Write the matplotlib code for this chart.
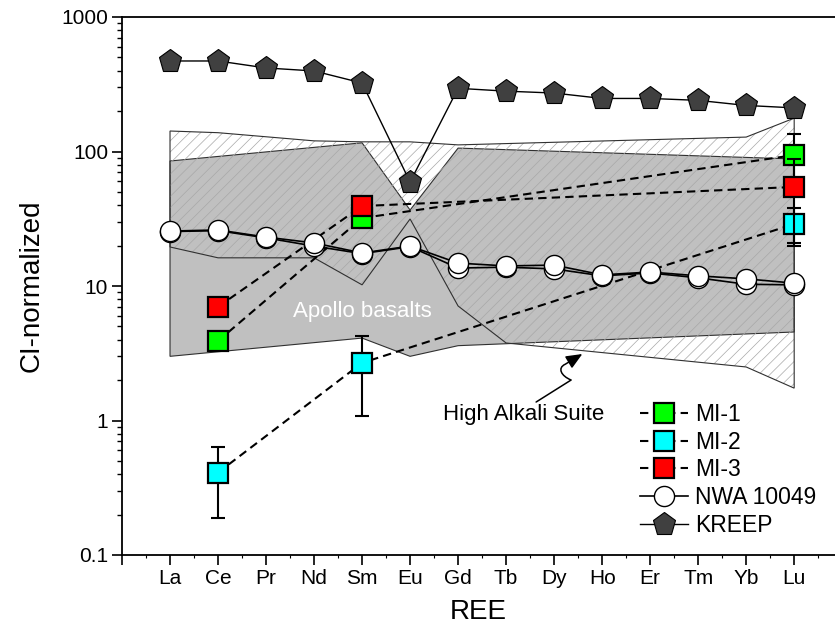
import numpy as np
import matplotlib
matplotlib.use("Agg")
import matplotlib.pyplot as plt
from matplotlib.path import Path
from matplotlib.patches import FancyArrowPatch

plt.rcParams['font.family'] = ['Liberation Sans', 'DejaVu Sans']
plt.rcParams['hatch.linewidth'] = 0.5

# REE on the x axis
ree = ['La', 'Ce', 'Pr', 'Nd', 'Sm', 'Eu', 'Gd', 'Tb', 'Dy', 'Ho', 'Er', 'Tm', 'Yb', 'Lu']

# KREEP and NWA 10049 (two analyses)
kreep = [471, 471, 418, 397, 323, 59.3, 295, 281, 272, 248, 248, 240, 220, 211]
nwa_a = [25.6, 26.1, 23.1, 20.9, 17.6, 19.8, 14.8, 14.1, 14.3, 12.1, 12.7, 11.9, 11.3, 10.5]
nwa_b = [25.4, 25.8, 22.8, 19.8, 17.4, 19.6, 13.6, 13.8, 13.4, 11.9, 12.5, 11.5, 10.3, 10.2]

# melt inclusions
mi_ree = ['Ce', 'Sm', 'Lu']
mi1 = [3.9, 32, 94]
mi1_err = [0, 0, 41]
mi2 = [0.41, 2.68, 28.9]
mi2_err = [0.22, 1.6, 9]
mi3 = [7.0, 39.3, 54.5]
mi3_err = [0, 0, 33.5]

# Apollo basalts field
apollo_up_ree = ['La', 'Sm', 'Eu', 'Gd', 'Lu']
apollo_up = [85, 116, 36.7, 106, 88]
apollo_lo_ree = ['La', 'Sm', 'Eu', 'Gd', 'Lu']
apollo_lo = [3.0, 4.1, 3.0, 3.6, 4.55]

# High Alkali Suite field
has_up_ree = ['La', 'Ce', 'Nd', 'Sm', 'Eu', 'Gd', 'Yb', 'Lu']
has_up = [142, 138, 120, 118, 118, 112, 128, 177]
has_lo_ree = ['La', 'Ce', 'Nd', 'Sm', 'Eu', 'Gd', 'Tb', 'Yb', 'Lu']
has_lo = [19.5, 16.2, 16.2, 10.2, 31.5, 7.1, 3.77, 2.5, 1.74]

# squiggly pointer for the High Alkali Suite label (x as REE position, y value)
arrow_x = [8.625, 9.354, 9.146, 9.0625, 9.229, 9.5875]
arrow_y = [1.372, 2.0, 2.142, 2.457, 2.617, 3.122]

pos = {r: i + 1 for i, r in enumerate(ree)}
x = np.arange(1, len(ree) + 1)
xm = [pos[r] for r in mi_ree]

fig = plt.figure(figsize=(8.35, 6.34), dpi=100)
ax = fig.add_axes([122 / 835, 1 - 555 / 634, 713 / 835, 538 / 634])
ax.set_yscale('log')

# fields
px = [pos[r] for r in apollo_up_ree] + [pos[r] for r in apollo_lo_ree][::-1]
py = apollo_up + apollo_lo[::-1]
ax.fill(px, py, facecolor='#c0c0c0', edgecolor='#303030', lw=0.8, zorder=1)

hx = [pos[r] for r in has_up_ree] + [pos[r] for r in has_lo_ree][::-1]
hy = has_up + has_lo[::-1]
ax.fill(hx, hy, facecolor='none', edgecolor='#a8a8a8', hatch='///', lw=0, zorder=2)
ax.fill(hx, hy, facecolor='none', edgecolor='#303030', lw=0.8, zorder=2)

ax.text(5.0, 6.5, 'Apollo basalts', color='white', fontsize=16,
        ha='center', va='center', zorder=3)
ax.text(8.375, 1.1, 'High Alkali Suite', color='black', fontsize=16,
        ha='center', va='center', zorder=3)

codes = [Path.MOVETO, Path.LINETO, Path.CURVE4, Path.CURVE4, Path.CURVE4, Path.LINETO]
squiggle = FancyArrowPatch(path=Path(list(zip(arrow_x, arrow_y)), codes),
                           arrowstyle='-|>,head_length=0.7,head_width=0.3',
                           mutation_scale=14, lw=1.1, color='black',
                           transform=ax.transData, zorder=3)
ax.add_patch(squiggle)

# melt inclusions
dash = (4, 2.5)
handles = []
for vals, err, col, lab in [(mi1, mi1_err, '#00ff00', 'MI-1'),
                            (mi2, mi2_err, '#00ffff', 'MI-2'),
                            (mi3, mi3_err, '#ff0000', 'MI-3')]:
    ax.errorbar(xm, vals, yerr=err, fmt='none', ecolor='black', elinewidth=1.5,
                capsize=4.7, capthick=1.5, zorder=4)
    ln, = ax.plot(xm, vals, color='black', lw=1.5, dashes=dash, marker='s',
                  markersize=15, markerfacecolor=col, markeredgecolor='black',
                  markeredgewidth=1.6, label=lab, zorder=4)
    handles.append(ln)

# NWA 10049
ax.plot(x, nwa_b, color='black', lw=1.2, marker='o', markersize=14.5,
        markerfacecolor='white', markeredgecolor='black', markeredgewidth=1.0, zorder=5)
ln, = ax.plot(x, nwa_a, color='black', lw=1.2, marker='o', markersize=14.5,
              markerfacecolor='white', markeredgecolor='black', markeredgewidth=1.0,
              label='NWA 10049', zorder=5)
handles.append(ln)

# KREEP
ln, = ax.plot(x, kreep, color='black', lw=1.0, marker='p', markersize=17,
              markerfacecolor='#404040', markeredgecolor='black', markeredgewidth=0.8,
              label='KREEP', zorder=6)
handles.append(ln)

ax.legend(handles=handles, loc='upper left', bbox_to_anchor=(0.727, 0.282),
          frameon=False, fontsize=16.5, handlelength=2.1, handletextpad=0.3,
          labelspacing=0.2, borderaxespad=0, borderpad=0)

# axes
ax.set_xlim(0, 14.85)
ax.set_ylim(0.1, 1000)
ax.set_xticks(np.arange(0, 15))
ax.set_xticklabels([''] + ree, fontsize=15)
ax.set_xticks(np.arange(0.5, 15, 1), minor=True)
ax.set_yticks([0.1, 1, 10, 100, 1000])
ax.set_yticklabels(['0.1', '1', '10', '100', '1000'], fontsize=15)
ax.tick_params(which='major', direction='out', length=7, width=1.2, pad=3)
ax.tick_params(axis='x', which='minor', direction='out', length=2.5, width=0.8)
ax.tick_params(axis='y', which='minor', direction='out', length=3.6, width=1.0)
ax.spines['right'].set_visible(False)
for s in ['left', 'top', 'bottom']:
    ax.spines[s].set_linewidth(1.3)

ax.set_xlabel('REE', fontsize=20, labelpad=8)
ax.set_ylabel('CI-normalized', fontsize=20, labelpad=12)

fig.savefig('out.png', dpi=100)
